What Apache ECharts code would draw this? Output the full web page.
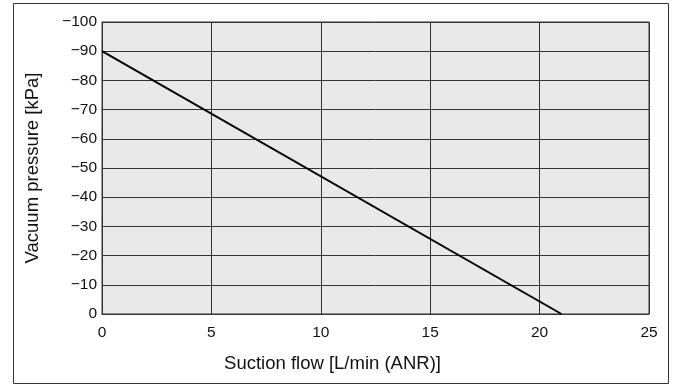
<!DOCTYPE html>
<html>
<head>
<meta charset="utf-8">
<script src="https://cdn.jsdelivr.net/npm/echarts@6/dist/echarts.min.js"></script>
<style>
  html, body, #main { margin: 0; padding: 0; width: 676px; height: 385px; overflow: hidden; background: #fff; }
</style>
</head>
<body>
<div id="main"></div>
<script>
// suction flow [L/min (ANR)] vs vacuum pressure [kPa]
const flowValues = [0, 21];
const pressureValues = [-90, 0];
const xTicks = [0, 5, 10, 15, 20, 25];
const yTicks = [0, -10, -20, -30, -40, -50, -60, -70, -80, -90, -100];

const lineData = flowValues.map((f, i) => [f, pressureValues[i]]);

let myChart = echarts.init(document.getElementById("main"), null, { renderer: "canvas" });
myChart.setOption({
  animation: false,
  textStyle: { fontFamily: "Liberation Sans, Arial, sans-serif" },
  graphic: [
    {
      type: "rect",
      shape: { x: 13.5, y: 3.5, width: 655, height: 380 },
      style: { fill: "none", stroke: "#333", lineWidth: 1 },
      z: -1,
    },
  ],
  grid: {
    left: 102,
    top: 22,
    right: 27,
    bottom: 71,
    show: true,
    backgroundColor: "#e8e9e8",
    borderColor: "#333",
    borderWidth: 1,
  },
  xAxis: {
    type: "value",
    min: xTicks[0],
    max: xTicks[xTicks.length - 1],
    interval: 5,
    name: "Suction flow [L/min (ANR)]",
    nameLocation: "middle",
    nameGap: 40,
    // label sits left of the axis centre in the original
    nameTextStyle: { fontSize: 18.5, color: "#111", padding: [0, 86, 0, 0] },
    axisLine: { show: true, lineStyle: { color: "#333", width: 1 } },
    axisTick: { show: false },
    axisLabel: { fontSize: 15.5, color: "#111", margin: 11 },
    splitLine: { show: true, lineStyle: { color: "#333", width: 1 } },
  },
  yAxis: {
    type: "value",
    min: yTicks[yTicks.length - 1],
    max: yTicks[0],
    interval: 10,
    inverse: true,
    name: "Vacuum pressure [kPa]",
    nameLocation: "middle",
    nameGap: 60,
    nameRotate: 90,
    nameTextStyle: { fontSize: 18.5, color: "#111" },
    axisLine: { show: true, lineStyle: { color: "#333", width: 1 } },
    axisTick: { show: false },
    axisLabel: {
      fontSize: 15.5,
      color: "#111",
      margin: 5,
      formatter: (v) => String(v).replace("-", "\u2212"),
    },
    splitLine: { show: true, lineStyle: { color: "#333", width: 1 } },
  },
  series: [
    {
      type: "line",
      data: lineData,
      symbol: "none",
      lineStyle: { color: "#000", width: 2 },
    },
  ],
});
</script>
</body>
</html>
